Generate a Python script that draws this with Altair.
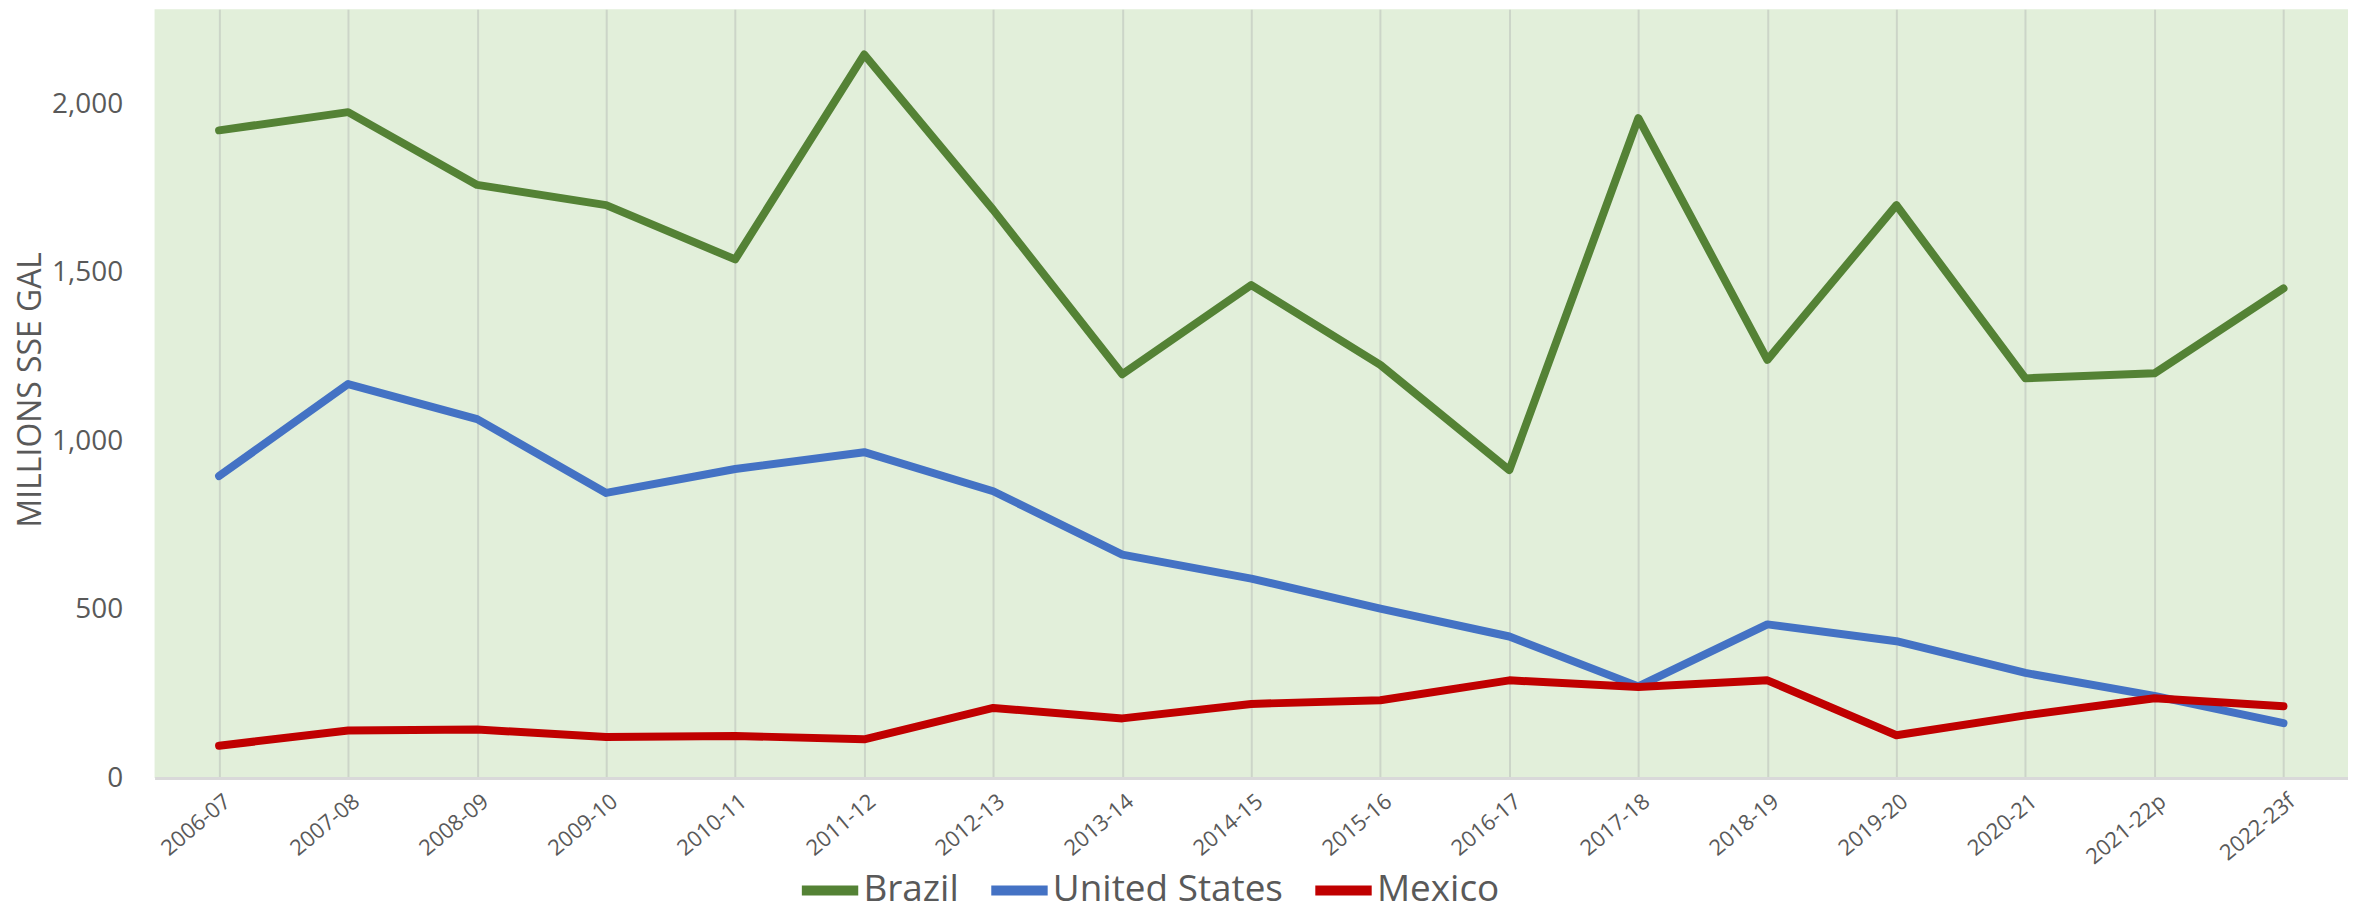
import altair as alt
import pandas as pd

years = ["2006-07", "2007-08", "2008-09", "2009-10", "2010-11", "2011-12",
         "2012-13", "2013-14", "2014-15", "2015-16", "2016-17", "2017-18",
         "2018-19", "2019-20", "2020-21", "2021-22p", "2022-23f"]

brazil = [1922, 1976, 1760, 1700, 1539, 2147, 1686, 1198, 1463, 1226, 914,
          1958, 1241, 1700, 1186, 1201, 1453]
united_states = [896, 1169, 1065, 846, 917, 967, 851, 663, 592, 503, 420,
                 272, 456, 406, 312, 244, 163]
mexico = [96, 141, 144, 122, 125, 115, 208, 177, 220, 231, 290, 270, 290,
          127, 186, 237, 213]

series = ["Brazil", "United States", "Mexico"]
colors = ["#548235", "#4472C4", "#C00000"]

rows = []
for name, vals in zip(series, [brazil, united_states, mexico]):
    for i, (yr, v) in enumerate(zip(years, vals)):
        rows.append({"year": yr, "country": name, "value": v, "order": i})
df = pd.DataFrame(rows)

FONT = "Open Sans"
GREY = "#595959"

chart = alt.Chart(df).mark_line(strokeWidth=8, strokeCap="round", strokeJoin="round").encode(
    x=alt.X("year:N", sort=years,
            scale=alt.Scale(type="point", padding=0.5),
            axis=alt.Axis(title=None, labelAngle=-40, labelAlign="right",
                          labelBaseline="middle", labelPadding=20, labelOffset=8,
                          ticks=False,
                          labelFont=FONT, labelFontSize=22, labelColor=GREY,
                          grid=True, gridColor="#CCD5C8", gridWidth=2,
                          domain=True, domainColor="#D9D9D9", domainWidth=3)),
    y=alt.Y("value:Q",
            scale=alt.Scale(domain=[0, 2281], nice=False, zero=True),
            axis=alt.Axis(title="MILLIONS SSE GAL", values=[0, 500, 1000, 1500, 2000],
                          format=",d", grid=False, ticks=False, domain=False,
                          labelFont=FONT, labelFontSize=28, labelColor=GREY,
                          labelPadding=32,
                          titleFont=FONT, titleFontSize=32, titleFontWeight="normal",
                          titleColor=GREY, titleX=-124, titleY=381,
                          titleAlign="center", titleBaseline="middle", titleAngle=-90)),
    color=alt.Color("country:N",
                    scale=alt.Scale(domain=series, range=colors),
                    sort=series,
                    legend=alt.Legend(title=None, orient="none", direction="horizontal",
                                      legendX=644, legendY=850,
                                      symbolType="stroke", symbolSize=3200,
                                      symbolStrokeWidth=10,
                                      labelFont=FONT, labelFontSize=37, labelColor=GREY,
                                      labelOffset=0, columnPadding=12, padding=0,
                                      labelLimit=400)),
    order=alt.Order("order:Q"),
).properties(
    width=2200, height=771,
    autosize=alt.AutoSizeParams(type="none"),
    padding={"left": 147, "top": 0, "right": 0, "bottom": 137},
).configure(
    background="white"
).configure_view(
    fill="#E2EFDA", stroke=None
)

chart.save("out.html", embed_options={"renderer": "svg", "actions": False})
